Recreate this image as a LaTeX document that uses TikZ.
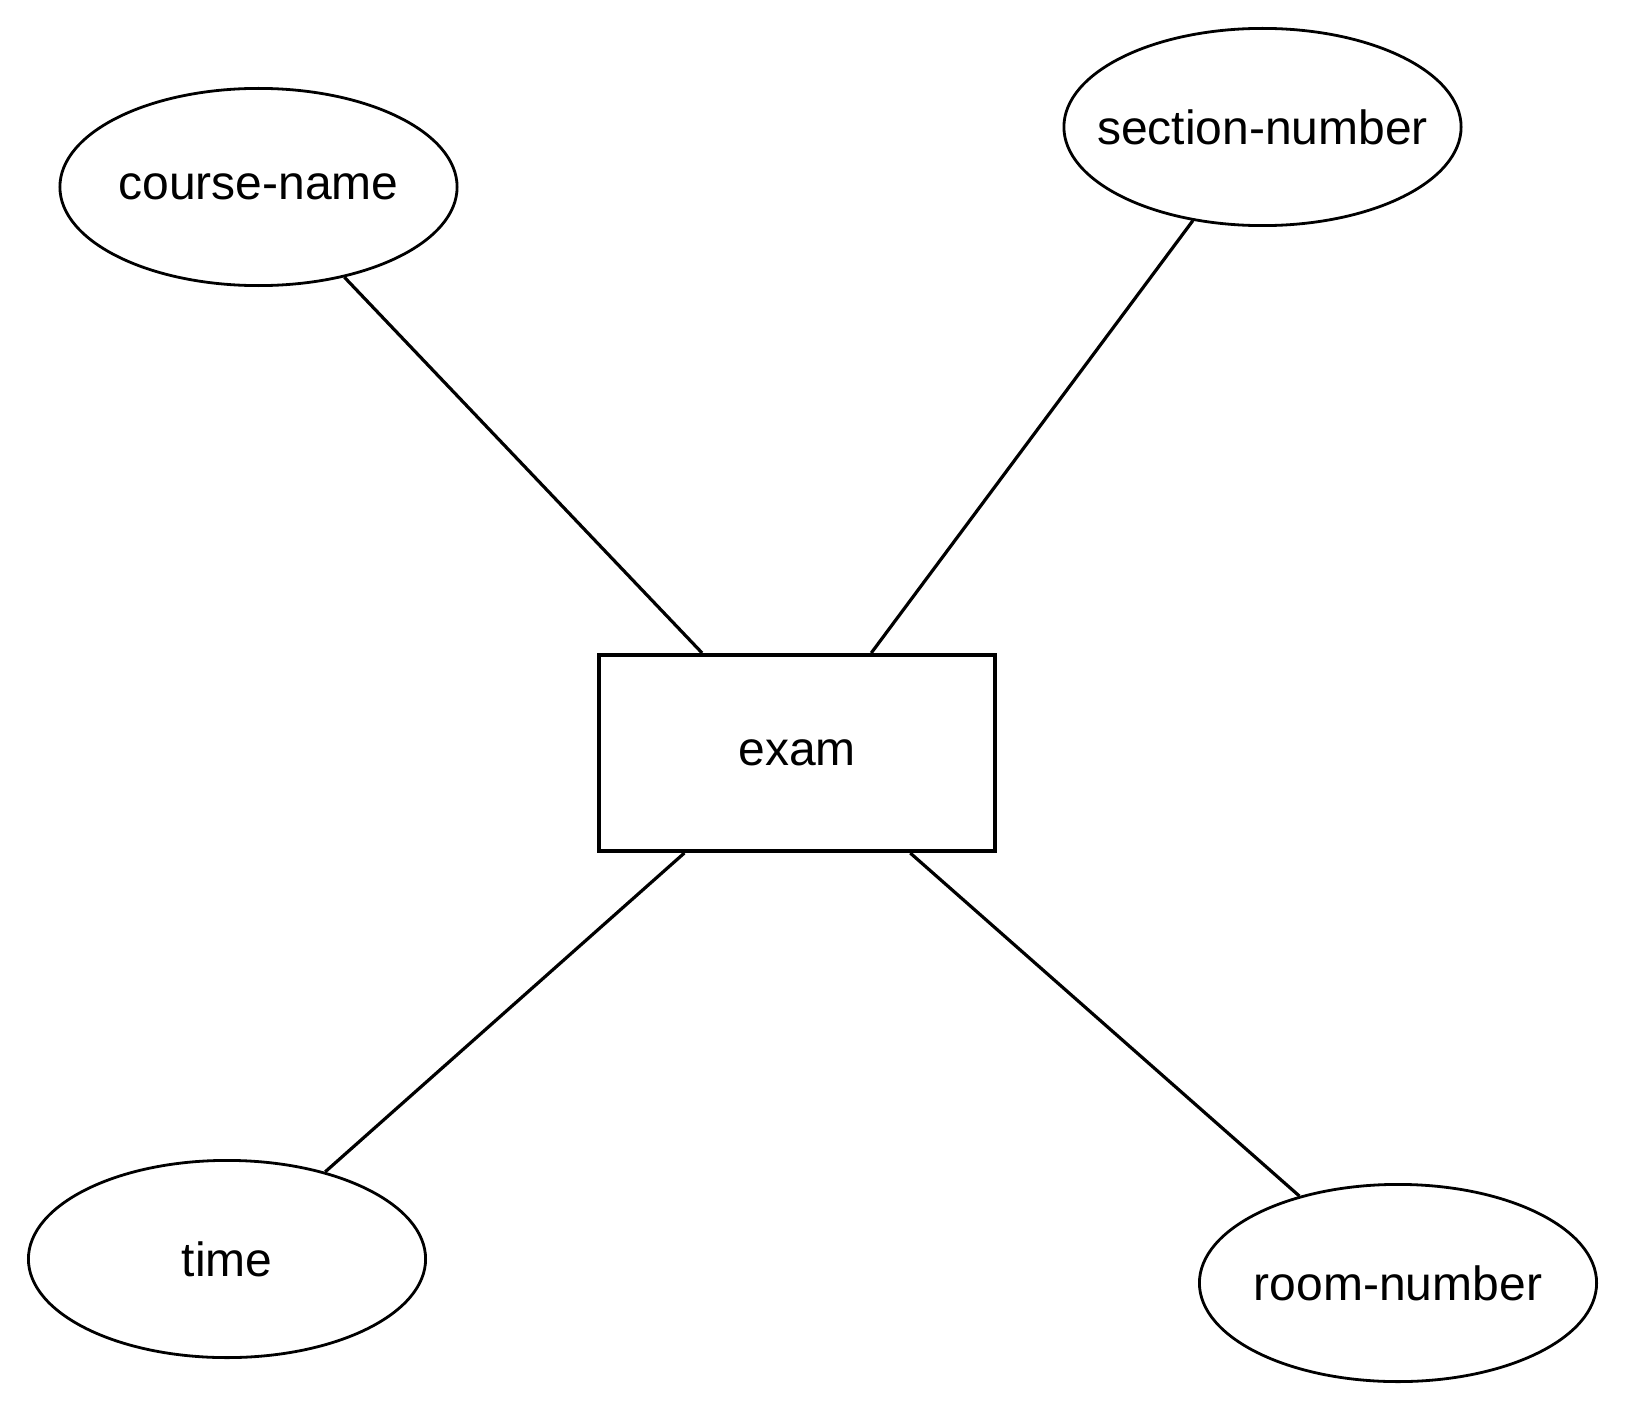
\documentclass[tikz,border=0pt]{standalone}
\usepackage{fontspec}
\setmainfont{Liberation Sans}
\usetikzlibrary{shapes.geometric}
\newcommand{\attrtext}[1]{\makebox[0pt][c]{#1}}
\begin{document}
\begin{tikzpicture}[x=0.5pt,y=-0.5pt,
  attr/.style={ellipse,draw=black,line width=1.4pt,fill=white,inner sep=0pt,
    minimum width=198.6pt,minimum height=98.6pt,
    font=\fontsize{24pt}{28pt}\selectfont},
  entity/.style={rectangle,draw=black,line width=1.8pt,fill=white,inner sep=0pt,
    minimum width=198.2pt,minimum height=98.2pt,
    font=\fontsize{24pt}{28pt}\selectfont},
  conn/.style={draw=black,line width=1.6pt}]
\useasboundingbox[fill=white] (0,0) rectangle (1632,1412);
\node[attr] (course) at (258.5,187) {\attrtext{course-name}};
\node[attr] (section) at (1262.5,127) {\attrtext{section-number}};
\node[entity] (exam) at (797,753) {exam};
\node[attr] (time) at (227,1259) {\attrtext{time}};
\node[attr] (room) at (1398,1283) {\attrtext{room-number}};
\draw[conn] (course) -- (exam);
\draw[conn] (section) -- (exam);
\draw[conn] (time) -- (exam);
\draw[conn] (room) -- (exam);
\end{tikzpicture}
\end{document}
